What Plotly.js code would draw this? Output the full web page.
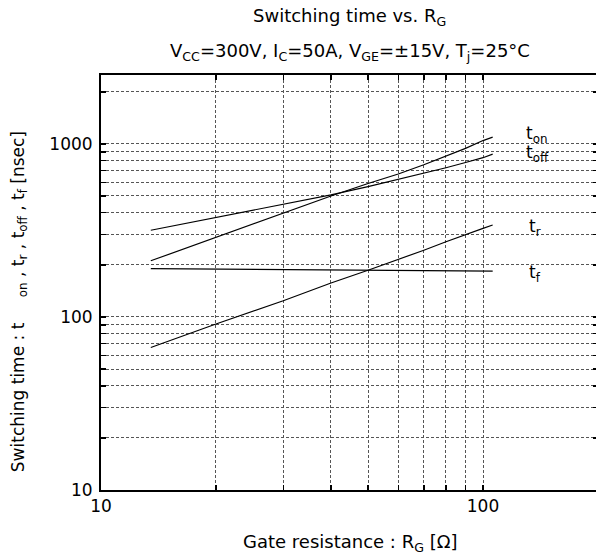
<!DOCTYPE html>
<html>
<head>
<meta charset="utf-8">
<script src="https://cdn.plot.ly/plotly-3.0.1.min.js"></script>
<style>
html, body { margin: 0; padding: 0; overflow: hidden; background: #fff; }
#chart { width: 598px; height: 557px; }
</style>
</head>
<body>
<div id="chart"></div>
<script>
// Gate resistance RG [ohm]
const rg   = [13.5, 20, 30, 40, 50, 60, 70, 80, 90, 100, 106];
// Switching times [nsec]
const ton  = [211, 288, 395, 500, 590, 670, 758, 850, 942, 1045, 1093];
const toff = [317, 375, 444, 507, 566, 622, 676, 728, 780, 832, 872];
const tr   = [66.6, 91, 124, 157, 186, 214, 243, 272, 300, 325, 340];
const tf   = [190, 189, 189, 188, 187, 187, 186, 186, 185, 185, 184];

const xTickVals = [10, 20, 30, 40, 50, 60, 70, 80, 90, 100, 200];
const xTickText = ['10', '', '', '', '', '', '', '', '', '100', ''];
const yTickVals = [10, 20, 30, 40, 50, 60, 70, 80, 90, 100, 200, 300, 400, 500, 600, 700, 800, 900, 1000, 2000];
const yTickText = ['10', '', '', '', '', '', '', '', '', '100', '', '', '', '', '', '', '', '', '1000', ''];

const seriesNames = ['t<sub>on</sub>', 't<sub>off</sub>', 't<sub>r</sub>', 't<sub>f</sub>'];
const seriesData = [ton, toff, tr, tf];
// label anchor positions (RG, nsec)
const labelX = [128, 128, 130, 130];
const labelY = [1130, 880, 330, 178];

const FONT = 'DejaVu Sans, Liberation Sans, Arial, sans-serif';

const traces = seriesData.map((ys, i) => ({
  x: rg, y: ys, type: 'scatter', mode: 'lines',
  line: { color: '#000', width: 1.2 },
  name: seriesNames[i], showlegend: false, hoverinfo: 'skip'
}));

const labelAnn = seriesNames.map((n, i) => ({
  x: Math.log10(labelX[i]), y: Math.log10(labelY[i]), xref: 'x', yref: 'y',
  text: n, showarrow: false, xanchor: 'left', yanchor: 'middle',
  font: { family: FONT, size: 17, color: '#000' }
}));

const axisCommon = {
  type: 'log', showline: true, linecolor: '#000', linewidth: 2, mirror: 'allticks',
  ticks: 'inside', ticklen: 5, tickwidth: 1.5, tickcolor: '#000',
  showgrid: true, gridcolor: '#555', gridwidth: 1, griddash: '3px,2px',
  zeroline: false, tickfont: { family: FONT, size: 17, color: '#000' },
  tickmode: 'array', fixedrange: true
};

const layout = {
  width: 598, height: 557,
  margin: { l: 101, r: 0, t: 75, b: 67 },
  paper_bgcolor: '#fff', plot_bgcolor: '#fff',
  font: { family: FONT, color: '#000' },
  showlegend: false,
  xaxis: Object.assign({}, axisCommon, {
    range: [1, Math.log10(200)],
    tickvals: xTickVals, ticktext: xTickText
  }),
  yaxis: Object.assign({}, axisCommon, {
    range: [1, Math.log10(2500)],
    tickvals: yTickVals, ticktext: yTickText,
    ticklabelstandoff: 3
  }),
  annotations: [
    { x: 0.5, y: 1.14, xref: 'paper', yref: 'paper', showarrow: false, yanchor: 'middle',
      text: 'Switching time vs. R<sub>G</sub>', font: { family: FONT, size: 18, color: '#000' } },
    { x: 0.5, y: 1.055, xref: 'paper', yref: 'paper', showarrow: false, yanchor: 'middle',
      text: 'V<sub>CC</sub>=300V, I<sub>C</sub>=50A, V<sub>GE</sub>=±15V, T<sub>j</sub>=25°C', font: { family: FONT, size: 18, color: '#000' } },
    { x: 0.5, y: -0.127, xref: 'paper', yref: 'paper', showarrow: false, yanchor: 'middle',
      text: 'Gate resistance : R<sub>G</sub> [Ω]', font: { family: FONT, size: 18, color: '#000' } },
    { x: -0.165, y: 0.455, xref: 'paper', yref: 'paper', showarrow: false, xanchor: 'center', yanchor: 'middle', textangle: -90,
      text: 'Switching time : t\u2003\u2002<sub>on</sub> , t<sub>r</sub> , t<sub>off</sub> , t<sub>f</sub> [nsec]', font: { family: FONT, size: 17, color: '#000' } }
  ].concat(labelAnn)
};

Plotly.newPlot('chart', traces, layout, { displayModeBar: false, staticPlot: true });
</script>
</body>
</html>
